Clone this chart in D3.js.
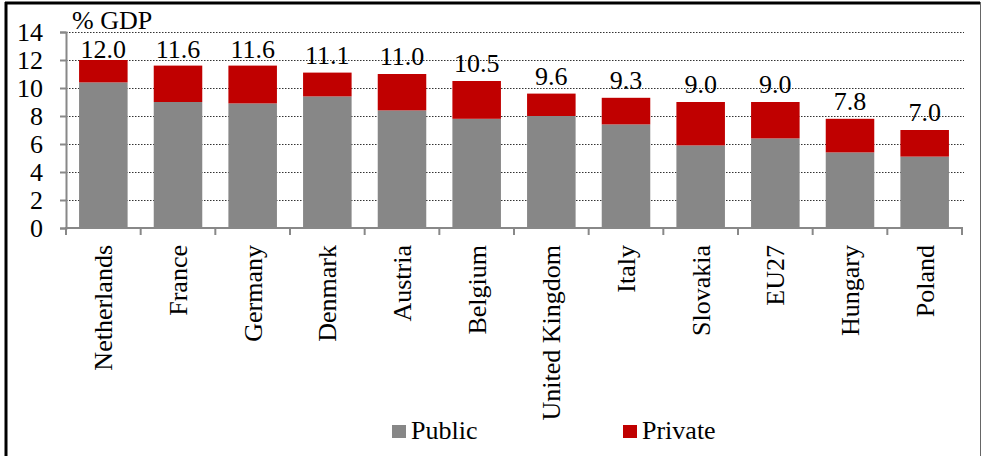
<!DOCTYPE html>
<html>
  <head>
    <title>Health spending, public vs private</title>
    <script src="https://cdn.jsdelivr.net/npm/d3@7"></script>
  </head>
  <body style="margin: 0; background: #fff;">
    <svg width="981" height="456" id="mainsvg"></svg>
    <script>
        // data
        const countries = ["Netherlands", "France", "Germany", "Denmark", "Austria", "Belgium",
            "United Kingdom", "Italy", "Slovakia", "EU27", "Hungary", "Poland"];
        const publicVals  = [10.4, 9.0, 8.9, 9.4, 8.4, 7.8, 8.0, 7.4, 5.9, 6.4, 5.4, 5.1];
        const privateVals = [1.6, 2.6, 2.7, 1.7, 2.6, 2.7, 1.6, 1.9, 3.1, 2.6, 2.4, 1.9];
        const totals      = [12.0, 11.6, 11.6, 11.1, 11.0, 10.5, 9.6, 9.3, 9.0, 9.0, 7.8, 7.0];
        const yTicks = [0, 2, 4, 6, 8, 10, 12, 14];
        const seriesNames = ["Public", "Private"];
        const seriesColors = ["#878787", "#c00000"];

        const FONT = "Liberation Serif";
        const svg = d3.select('#mainsvg').attr('font-family', FONT);

        const x = d3.scaleBand().domain(countries).range([66, 962]).paddingInner(0.35).paddingOuter(0.175);
        const y = d3.scaleLinear().domain([0, 14]).range([228, 32]);

        // frame
        svg.append('line').attr('x1', 6).attr('x2', 6).attr('y1', 2).attr('y2', 456)
            .attr('stroke', '#000').attr('stroke-width', 3);
        svg.append('line').attr('x1', 5).attr('x2', 980).attr('y1', 3).attr('y2', 3)
            .attr('stroke', '#000').attr('stroke-width', 3);
        svg.append('line').attr('x1', 980.5).attr('x2', 980.5).attr('y1', 2).attr('y2', 456)
            .attr('stroke', '#666').attr('stroke-width', 1);

        // gridlines
        svg.append('g').selectAll('line').data(yTicks.filter(d => d > 0)).join('line')
            .attr('x1', 66).attr('x2', 964)
            .attr('y1', d => y(d) + 0.5).attr('y2', d => y(d) + 0.5)
            .attr('stroke', '#333').attr('stroke-width', 1.2).attr('stroke-dasharray', '1.5,1.5');

        // stacked bars
        const stackData = countries.map((c, i) => ({country: c, Public: publicVals[i], Private: privateVals[i]}));
        const stacked = d3.stack().keys(seriesNames)(stackData);
        svg.append('g').selectAll('g').data(stacked).join('g')
            .attr('fill', (d, i) => seriesColors[i])
            .selectAll('rect').data(d => d).join('rect')
            .attr('x', d => x(d.data.country))
            .attr('width', x.bandwidth())
            .attr('y', d => y(d[1]))
            .attr('height', d => y(d[0]) - y(d[1]));

        // y axis
        const yAxis = svg.append('g').attr('transform', 'translate(66,0)')
            .call(d3.axisLeft(y).tickValues(yTicks).tickSize(6).tickPadding(17))
            .attr('font-family', FONT).attr('font-size', 26);
        yAxis.select('.domain').attr('stroke', '#888').attr('stroke-width', 2);
        yAxis.selectAll('.tick line').attr('stroke', '#888').attr('stroke-width', 2);
        yAxis.selectAll('text').attr('fill', '#000').attr('dy', '0.32em').attr('font-family', FONT);

        // x axis with ticks at band boundaries
        svg.append('line').attr('x1', 65).attr('x2', 963).attr('y1', 228).attr('y2', 228)
            .attr('stroke', '#888').attr('stroke-width', 2);
        const step = x.step();
        svg.append('g').selectAll('line').data(d3.range(countries.length + 1)).join('line')
            .attr('x1', i => 66 + i * step).attr('x2', i => 66 + i * step)
            .attr('y1', 228).attr('y2', 235)
            .attr('stroke', '#888').attr('stroke-width', 2);

        // category labels
        svg.append('g').selectAll('text').data(countries).join('text')
            .attr('transform', d => `translate(${x(d) + x.bandwidth() / 2 + 9},245) rotate(-90)`)
            .attr('text-anchor', 'end')
            .attr('font-family', FONT).attr('font-size', 26)
            .text(d => d);

        // total labels (kept below the unit label)
        svg.append('g').selectAll('text').data(countries).join('text')
            .attr('x', d => x(d) + x.bandwidth() / 2)
            .attr('y', (d, i) => Math.max(y(totals[i]) - 9, 58))
            .attr('text-anchor', 'middle')
            .attr('font-family', FONT).attr('font-size', 26)
            .text((d, i) => totals[i].toFixed(1));

        // unit label
        svg.append('text').attr('x', 72).attr('y', 29)
            .attr('font-family', FONT).attr('font-size', 26).text('% GDP');

        // legend
        const legendX = [392, 623];
        const legend = svg.append('g').selectAll('g').data(seriesNames).join('g')
            .attr('transform', (d, i) => `translate(${legendX[i]},425)`);
        legend.append('rect').attr('width', 14).attr('height', 13)
            .attr('fill', (d, i) => seriesColors[i]);
        legend.append('text').attr('x', 19).attr('y', 14)
            .attr('font-family', FONT).attr('font-size', 26).text(d => d);
    </script>
  </body>
</html>
